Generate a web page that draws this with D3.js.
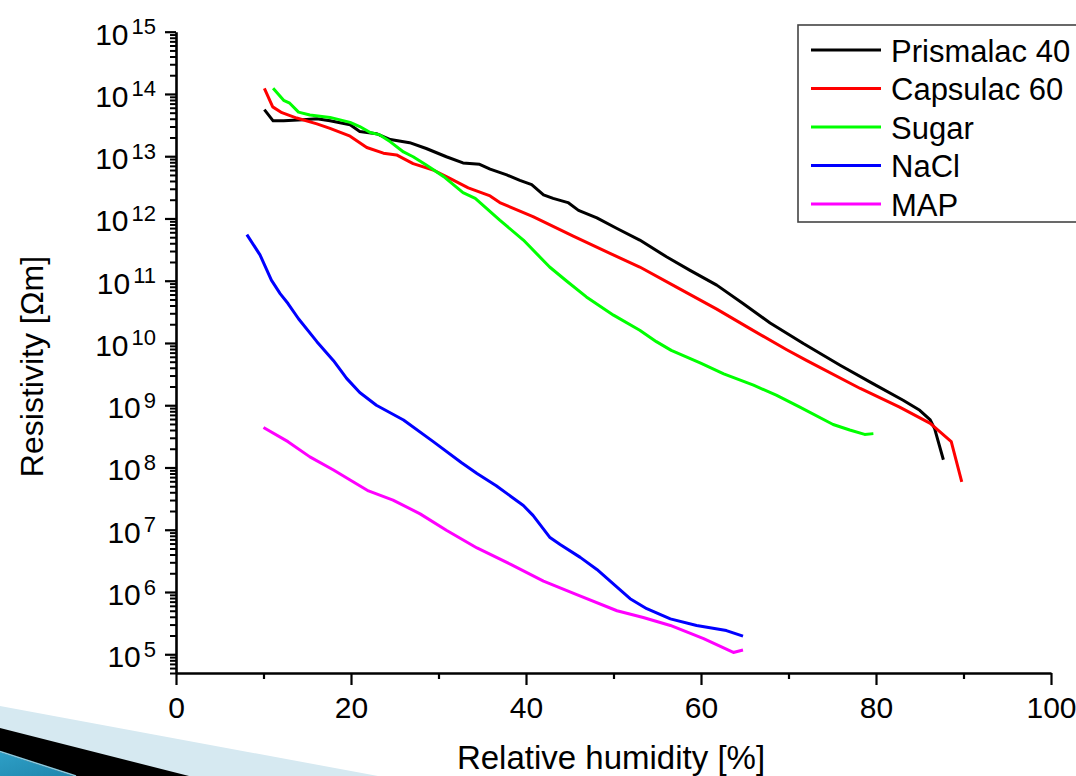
<!DOCTYPE html>
<html><head><meta charset="utf-8">
<script src="https://cdn.jsdelivr.net/npm/d3@7"></script>
<style>
html,body{margin:0;padding:0;background:#fff;overflow:hidden}
svg{display:block;font-family:"Liberation Sans",Arial,sans-serif}
</style></head><body>
<svg id="chart" width="1076" height="776"></svg>
<script>
// ---------- data ----------
const seriesNames = ["Prismalac 40", "Capsulac 60", "Sugar", "NaCl", "MAP"];
const seriesColors = ["#000000", "#ff0000", "#00ff00", "#0000ff", "#ff00ff"];

const prismalacRH = [10.1,11.1,12.3,14.5,16.1,17.6,19.9,21.0,22.9,24.5,26.7,28.6,30.9,32.8,34.7,35.9,37.8,39.3,40.65,42.0,43.1,44.8,46.0,48.1,50.4,53.0,56.1,58.7,61.8,64.8,67.9,71.7,75.9,79.7,83.1,85.0,86.2,86.7,87.7];
const prismalacRes = [5.6e13,3.7e13,3.7e13,3.85e13,4.0e13,3.7e13,3.2e13,2.5e13,2.3e13,1.85e13,1.65e13,1.33e13,9.8e12,7.8e12,7.4e12,6.2e12,5.0e12,4.1e12,3.5e12,2.4e12,2.1e12,1.8e12,1.35e12,1.02e12,6.9e11,4.5e11,2.4e11,1.48e11,8.5e10,4.3e10,2.1e10,9.8e9,4.4e9,2.2e9,1.2e9,8.3e8,5.8e8,4.2e8,1.33e8];

const capsulacRH = [10.1,11.05,12.1,13.8,16.1,17.6,19.9,21.8,23.7,25.2,27.1,29.4,31.3,33.4,35.9,37.0,40.8,45.4,49.6,53.0,57.2,61.8,65.6,69.8,72.1,78.2,82.7,86.2,88.6,89.8];
const capsulacRes = [1.23e14,6.2e13,5.0e13,4.1e13,3.3e13,2.8e13,2.1e13,1.38e13,1.12e13,1.05e13,7.6e12,6.0e12,4.4e12,3.1e12,2.3e12,1.8e12,1.07e12,5.2e11,2.75e11,1.66e11,7.9e10,3.5e10,1.7e10,7.8e9,5.2e9,1.86e9,9.3e8,5.1e8,2.6e8,5.9e7];

const sugarRH = [11.1,12.3,13.0,14.0,15.3,17.6,19.9,21.0,22.2,23.3,24.5,26.0,27.1,28.6,30.6,32.8,34.2,37.0,39.7,42.7,44.6,46.9,50.0,53.0,54.9,56.6,59.9,62.6,66.0,68.6,71.3,75.1,77.0,78.7,79.7];
const sugarRes = [1.23e14,7.9e13,7.1e13,5.1e13,4.6e13,4.2e13,3.5e13,3.0e13,2.4e13,2.2e13,1.7e13,1.17e13,9.8e12,7.2e12,4.7e12,2.6e12,2.1e12,9.4e11,4.5e11,1.66e11,1.0e11,5.5e10,2.8e10,1.6e10,1.05e10,7.6e9,4.8e9,3.2e9,2.1e9,1.45e9,9.3e8,4.9e8,4.0e8,3.4e8,3.5e8];

const naclRH = [8.1,9.6,10.9,11.9,12.8,14.0,16.1,18.0,19.5,21.0,22.9,26.0,29.4,32.6,34.4,36.6,39.7,40.8,42.7,43.9,46.2,48.1,50.4,51.9,53.8,56.5,59.5,62.9,64.8];
const naclRes = [5.5e11,2.6e11,1.02e11,6.2e10,4.3e10,2.45e10,1.05e10,5.2e9,2.7e9,1.6e9,1.0e9,5.8e8,2.6e8,1.2e8,8.0e7,5.1e7,2.45e7,1.7e7,7.6e6,5.8e6,3.6e6,2.3e6,1.2e6,7.8e5,5.4e5,3.7e5,2.9e5,2.4e5,1.95e5];

const mapRH = [10.0,12.8,15.3,18.0,19.9,22.0,24.8,27.9,30.9,34.4,38.2,42.0,45.8,50.4,53.4,56.5,60.3,63.7,64.8];
const mapRes = [4.4e8,2.6e8,1.48e8,9.1e7,6.3e7,4.2e7,3.0e7,1.8e7,9.8e6,5.1e6,2.8e6,1.5e6,9.1e5,5.0e5,3.9e5,2.9e5,1.78e5,1.07e5,1.17e5];

const xTicks = [0, 20, 40, 60, 80, 100];
const xMinorTicks = [10, 30, 50, 70, 90];
const yTickExponents = [5, 6, 7, 8, 9, 10, 11, 12, 13, 14, 15];
const xTitle = "Relative humidity [%]";
const yTitle = "Resistivity [\u03A9m]";

// ---------- build ----------
const seriesRH = [prismalacRH, capsulacRH, sugarRH, naclRH, mapRH];
const seriesRes = [prismalacRes, capsulacRes, sugarRes, naclRes, mapRes];
const series = seriesNames.map((n, i) => ({
  name: n, color: seriesColors[i],
  pts: seriesRH[i].map((h, j) => [h, seriesRes[i][j]])
}));

const svg = d3.select("#chart");
const x = d3.scaleLinear().domain([0, 100]).range([176, 1051]);
const y = d3.scaleLog().domain([5e4, 1e15]).range([673, 31.7]);

// slide decoration (bottom-left)
const defs = svg.append("defs");
const grad = defs.append("linearGradient").attr("id", "teal").attr("x1", "0").attr("y1", "0").attr("x2", "1").attr("y2", "1");
grad.append("stop").attr("offset", "0").attr("stop-color", "#2e9fc6");
grad.append("stop").attr("offset", "1").attr("stop-color", "#1f86ad");
const deco = svg.append("g");
deco.append("polygon").attr("points", "0,706 378,776 0,776").attr("fill", "#d6e9f1");
deco.append("polygon").attr("points", "0,728 189,776 0,776").attr("fill", "#000");
deco.append("polygon").attr("points", "0,752 74,776 0,776").attr("fill", "url(#teal)");
deco.append("line").attr("x1", 0).attr("y1", 751.5).attr("x2", 76).attr("y2", 776).attr("stroke", "#8ccbe0").attr("stroke-width", 1.5);

// minor y ticks
const yMinor = [];
for (let e = 4; e <= 14; e++) for (let k = 2; k <= 9; k++) {
  const v = k * Math.pow(10, e);
  if (v >= 5e4 && v <= 1e15) yMinor.push(v);
}
const gyMinor = svg.append("g").attr("transform", "translate(176,0)")
  .call(d3.axisLeft(y).tickValues(yMinor).tickSize(6).tickFormat(""));
gyMinor.select(".domain").remove();
gyMinor.selectAll("line").attr("stroke", "#000").attr("stroke-width", 2);

const gy = svg.append("g").attr("transform", "translate(176,0)")
  .call(d3.axisLeft(y).tickValues(yTickExponents.map(e => Math.pow(10, e))).tickSize(11).tickSizeOuter(0).tickFormat(""));
gy.select(".domain").attr("stroke", "#000").attr("stroke-width", 2.6);
gy.selectAll("line").attr("stroke", "#000").attr("stroke-width", 2.2);

// y tick labels 10^n
const ylab = svg.append("g").attr("font-size", 30).attr("fill", "#000");
yTickExponents.forEach(e => {
  const t = ylab.append("text").attr("x", 156).attr("y", y(Math.pow(10, e)) + 13).attr("text-anchor", "end");
  t.append("tspan").text("10");
  t.append("tspan").attr("font-size", 22).attr("dy", -10.5).attr("dx", 3).text(String(e));
});

// x axis
const gxMinor = svg.append("g").attr("transform", "translate(0,673)")
  .call(d3.axisBottom(x).tickValues(xMinorTicks).tickSize(6).tickFormat(""));
gxMinor.select(".domain").remove();
gxMinor.selectAll("line").attr("stroke", "#000").attr("stroke-width", 2.2);

const gx = svg.append("g").attr("transform", "translate(0,673)")
  .call(d3.axisBottom(x).tickValues(xTicks).tickSize(12).tickSizeOuter(0).tickPadding(12).tickFormat(d3.format("d")));
gx.attr("font-size", null).attr("font-family", null);
gx.select(".domain").attr("stroke", "#000").attr("stroke-width", 2.6);
gx.selectAll("line").attr("stroke", "#000").attr("stroke-width", 2.2);
gx.selectAll("text").attr("font-size", 30).attr("fill", "#000");

// axis titles
svg.append("text").attr("x", 611).attr("y", 769).attr("text-anchor", "middle")
  .attr("font-size", 33).attr("fill", "#000").text(xTitle);
svg.append("text").attr("transform", "translate(43,366.5) rotate(-90)").attr("text-anchor", "middle")
  .attr("font-size", 32).attr("fill", "#000").text(yTitle);

// series lines
const line = d3.line().x(d => x(d[0])).y(d => y(d[1]));
svg.append("g").selectAll("path").data(series).join("path")
  .attr("d", d => line(d.pts))
  .attr("fill", "none").attr("stroke", d => d.color)
  .attr("stroke-width", 3).attr("stroke-linejoin", "round").attr("stroke-linecap", "butt");

// legend
const lg = svg.append("g");
lg.append("rect").attr("x", 798).attr("y", 25).attr("width", 300).attr("height", 197)
  .attr("fill", "#fff").attr("stroke", "#444").attr("stroke-width", 1.6);
const rowY = d3.scaleLinear().domain([0, 4]).range([50, 204]);
series.forEach((s, i) => {
  lg.append("line").attr("x1", 811).attr("x2", 881).attr("y1", rowY(i)).attr("y2", rowY(i))
    .attr("stroke", s.color).attr("stroke-width", 3);
  lg.append("text").attr("x", 891).attr("y", rowY(i) + 11.5).attr("font-size", 31)
    .attr("fill", "#000").text(s.name);
});
</script>
</body></html>
